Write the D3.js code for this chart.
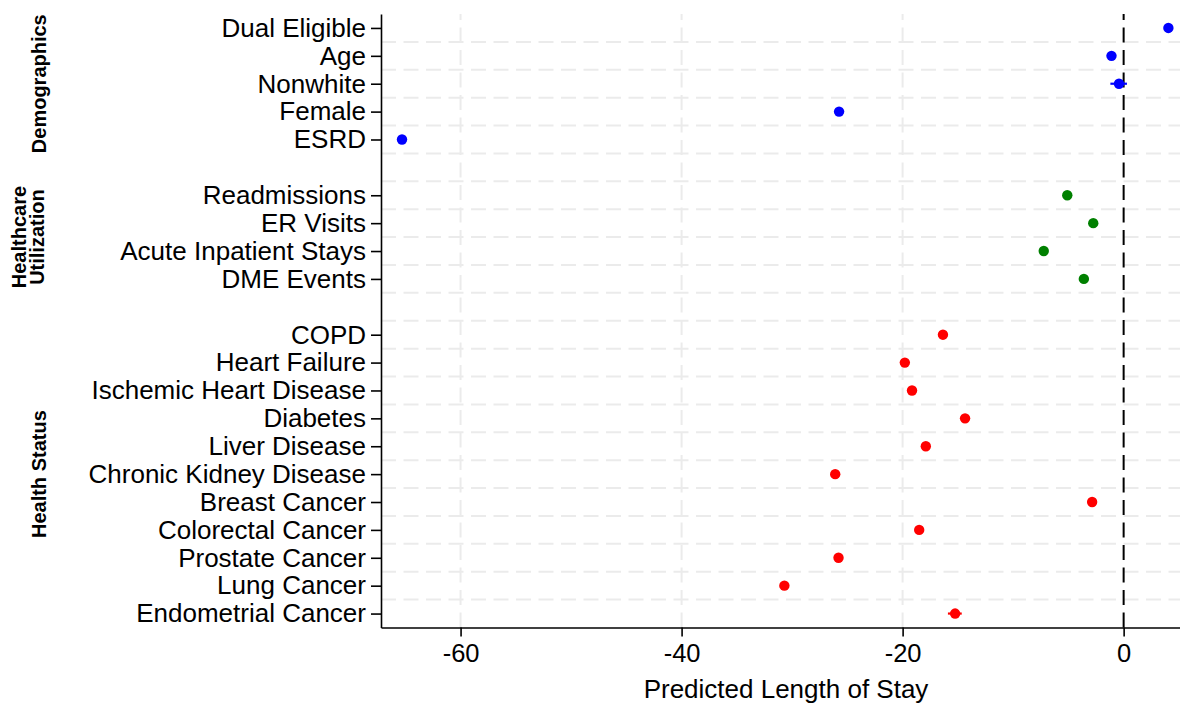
<!DOCTYPE html>
<html>
<head>
<meta charset="utf-8">
<script src="https://cdn.jsdelivr.net/npm/d3@7"></script>
<style>
  html, body { margin: 0; padding: 0; background: #fff; }
  svg { display: block; font-family: "Liberation Sans", Arial, Helvetica, sans-serif; }
</style>
</head>
<body>
<svg id="chart" width="1180" height="703"></svg>
<script>
// Category groups, in display order
const groupNames = [["Demographics"], ["Healthcare", "Utilization"], ["Health Status"]];
const groupColors = ["#0000ff", "#008000", "#ff0000"];

// Demographics
const demoLabels = ["Dual Eligible", "Age", "Nonwhite", "Female", "ESRD"];
const demoValues = [4.05, -1.1, -0.42, -25.75, -65.3];
const demoLow    = [3.85, -1.3, -1.2, -26.0, -65.6];
const demoHigh   = [4.25, -0.9, 0.3, -25.5, -65.0];

// Healthcare utilization
const utilLabels = ["Readmissions", "ER Visits", "Acute Inpatient Stays", "DME Events"];
const utilValues = [-5.1, -2.75, -7.23, -3.6];
const utilLow    = [-5.3, -2.95, -7.43, -3.8];
const utilHigh   = [-4.9, -2.55, -7.03, -3.4];

// Health status
const healthLabels = ["COPD", "Heart Failure", "Ischemic Heart Disease", "Diabetes", "Liver Disease",
  "Chronic Kidney Disease", "Breast Cancer", "Colorectal Cancer", "Prostate Cancer", "Lung Cancer",
  "Endometrial Cancer"];
const healthValues = [-16.35, -19.8, -19.15, -14.35, -17.9, -26.1, -2.85, -18.5, -25.8, -30.7, -15.25];
const healthLow    = [-16.55, -20.0, -19.35, -14.55, -18.1, -26.3, -3.05, -18.7, -26.0, -30.9, -15.9];
const healthHigh   = [-16.15, -19.6, -18.95, -14.15, -17.7, -25.9, -2.65, -18.3, -25.6, -30.5, -14.65];

const xTicks = [-60, -40, -20, 0];
const xTitle = "Predicted Length of Stay";

// Assemble rows per group
const groupRows = [
  [demoLabels, demoValues, demoLow, demoHigh],
  [utilLabels, utilValues, utilLow, utilHigh],
  [healthLabels, healthValues, healthLow, healthHigh]
].map(([labels, values, low, high], g) =>
  labels.map((label, i) => ({ label, value: values[i], low: low[i], high: high[i], group: g })));

// Slot keys with an empty slot between groups
const slots = [];
groupRows.forEach((rows, g) => {
  if (g > 0) slots.push("__gap" + g);
  rows.forEach(r => slots.push(r.label));
});
const rows = groupRows.flat();

const svg = d3.select("#chart");
const plot = { left: 381, right: 1180, top: 14, bottom: 627.5 };
const labelFont = "'Liberation Sans', Arial, sans-serif";

const x = d3.scaleLinear().domain([-67.2, 5.1]).range([plot.left, plot.right]);
const y = d3.scalePoint().domain(slots).range([plot.top, plot.bottom]).padding(0.5);
const step = y.step();

// Grid: horizontal dashed lines between slots
const grid = svg.append("g").attr("class", "grid")
  .attr("stroke", "#ebebeb").attr("stroke-width", 2).attr("stroke-dasharray", "15,7.5");
grid.selectAll("line.h")
  .data(slots.slice(0, -1))
  .join("line").attr("class", "h")
  .attr("x1", plot.left).attr("x2", plot.right)
  .attr("y1", d => y(d) + step / 2).attr("y2", d => y(d) + step / 2);
// vertical dashed lines at the non-zero ticks
grid.selectAll("line.v")
  .data(xTicks.filter(t => t !== 0))
  .join("line").attr("class", "v")
  .attr("x1", d => x(d)).attr("x2", d => x(d))
  .attr("y1", plot.bottom).attr("y2", plot.top);

// Reference line at zero
svg.append("line")
  .attr("x1", x(0)).attr("x2", x(0))
  .attr("y1", plot.bottom).attr("y2", plot.top)
  .attr("stroke", "#000").attr("stroke-width", 2).attr("stroke-dasharray", "15,7.5");

// Confidence intervals
svg.append("g").selectAll("line")
  .data(rows)
  .join("line")
  .attr("x1", d => x(d.low)).attr("x2", d => x(d.high))
  .attr("y1", d => y(d.label)).attr("y2", d => y(d.label))
  .attr("stroke", d => groupColors[d.group]).attr("stroke-width", 2.2);

// Point estimates
svg.append("g").selectAll("circle")
  .data(rows)
  .join("circle")
  .attr("cx", d => x(d.value)).attr("cy", d => y(d.label))
  .attr("r", 5.2)
  .attr("fill", d => groupColors[d.group]);

// Y axis
const yAxis = svg.append("g")
  .attr("transform", `translate(${plot.left},0)`)
  .call(d3.axisLeft(y).tickValues(rows.map(r => r.label)).tickSize(10).tickSizeOuter(0).tickPadding(5));
yAxis.selectAll("text").attr("font-size", 26).attr("fill", "#000").attr("font-family", labelFont);
yAxis.selectAll("line, path").attr("stroke", "#000").attr("stroke-width", 1.6);

// X axis
const xAxis = svg.append("g")
  .attr("transform", `translate(0,${plot.bottom})`)
  .call(d3.axisBottom(x).tickValues(xTicks).tickFormat(d => String(d))
    .tickSize(9).tickSizeOuter(0).tickPadding(7));
xAxis.selectAll("text").attr("font-size", 25.5).attr("fill", "#000").attr("font-family", labelFont);
xAxis.selectAll("line, path").attr("stroke", "#000").attr("stroke-width", 1.6);

// X axis title
svg.append("text")
  .attr("x", 786).attr("y", 698)
  .attr("text-anchor", "middle").attr("font-size", 26).attr("fill", "#000")
  .text(xTitle);

// Group labels, rotated, centred on their rows
const groupLabelBaseline = [[46], [26, 44], [46]];
groupRows.forEach((grp, g) => {
  const yc = (y(grp[0].label) + y(grp[grp.length - 1].label)) / 2;
  groupNames[g].forEach((line, k) => {
    svg.append("text")
      .attr("transform", `translate(${groupLabelBaseline[g][k]},${yc}) rotate(-90)`)
      .attr("text-anchor", "middle")
      .attr("font-size", 20).attr("font-weight", "bold").attr("fill", "#000")
      .text(line);
  });
});
</script>
</body>
</html>
